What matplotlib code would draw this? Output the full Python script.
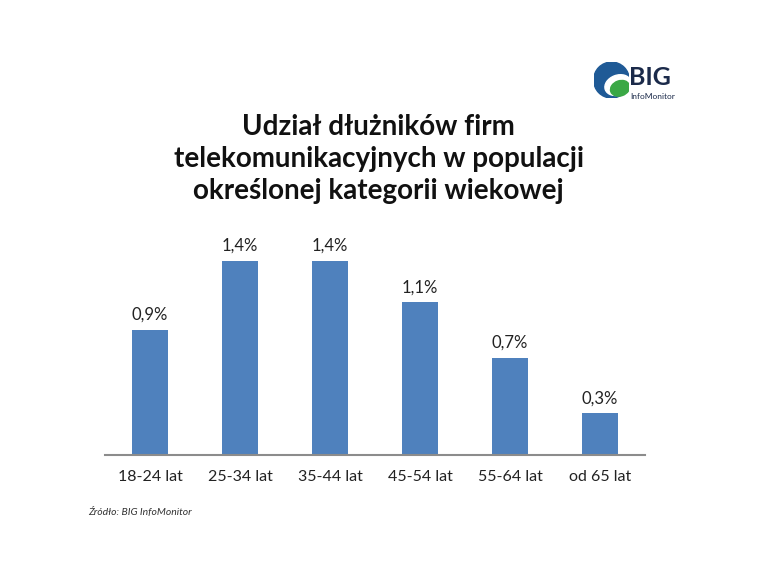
import matplotlib.pyplot as plt
from matplotlib.patches import Circle, Ellipse

categories = ['18-24 lat', '25-34 lat', '35-44 lat', '45-54 lat', '55-64 lat', 'od 65 lat']
values = [0.9, 1.4, 1.4, 1.1, 0.7, 0.3]
labels = ['0,9%', '1,4%', '1,4%', '1,1%', '0,7%', '0,3%']

plt.rcParams['font.family'] = ['Lato', 'DejaVu Sans']

fig = plt.figure(figsize=(7.62, 5.8), dpi=100)
ax = fig.add_axes([0.1378, 0.2155, 0.7087, 0.383])

x = range(len(categories))
bars = ax.bar(x, values, width=0.41, color='#4F81BD')
for b, lab in zip(bars, labels):
    ax.text(b.get_x() + b.get_width() / 2, b.get_height() + 0.05, lab,
            ha='center', va='bottom', fontsize=12, color='#222222')

ax.set_xlim(-0.5, 5.5)
ax.set_ylim(0, 1.6)
ax.set_xticks(list(x))
ax.set_xticklabels(categories, fontsize=11.5, color='#222222')
ax.tick_params(axis='x', length=0, pad=11)
ax.set_yticks([])
for side in ['left', 'right', 'top']:
    ax.spines[side].set_visible(False)
ax.spines['bottom'].set_color('#8c8c8c')
ax.spines['bottom'].set_linewidth(1.5)

fig.text(0.497, 0.804, 'Udział dłużników firm\ntelekomunikacyjnych w populacji\nokreślonej kategorii wiekowej',
         ha='center', va='top', fontsize=20, fontweight='bold', linespacing=1.3, color='#111111')

fig.text(0.115, 0.118, 'Źródło: BIG InfoMonitor', ha='left', va='center',
         fontsize=7.5, style='italic', color='#333333')

# logo
lax = fig.add_axes([0.779, 0.831, 0.047, 0.062])
lax.set_xlim(0, 1)
lax.set_ylim(0, 1)
lax.axis('off')
lax.add_patch(Circle((0.5, 0.5), 0.5, color='#1f5a96'))
lax.add_patch(Ellipse((0.68, 0.36), 0.75, 0.55, angle=20, color='white'))
lax.add_patch(Ellipse((0.74, 0.27), 0.55, 0.42, angle=20, color='#3aa845'))
fig.text(0.826, 0.866, 'BIG', ha='left', va='center', fontsize=18, fontweight='bold',
         color='#1b2a4a')
fig.text(0.827, 0.833, 'InfoMonitor', ha='left', va='center', fontsize=6,
         color='#1b2a4a')

fig.savefig('out.png', dpi=100)
